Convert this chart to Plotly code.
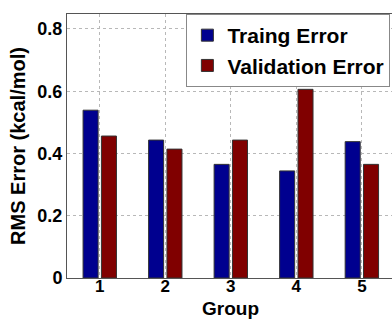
import plotly.graph_objects as go

groups = [1, 2, 3, 4, 5]
training_error = [0.539, 0.443, 0.365, 0.344, 0.438]
validation_error = [0.456, 0.414, 0.443, 0.606, 0.365]
y_ticks = [0, 0.2, 0.4, 0.6, 0.8]
y_tick_labels = ["0", "0.2", "0.4", "0.6", "0.8"]

FONT = "Liberation Sans, Arial, sans-serif"

fig = go.Figure()
fig.add_trace(go.Bar(x=groups, y=training_error, name="Traing Error",
                     marker=dict(color="#00008F", line=dict(color="#333333", width=1))))
fig.add_trace(go.Bar(x=groups, y=validation_error, name="Validation Error",
                     marker=dict(color="#800000", line=dict(color="#333333", width=1))))

fig.update_layout(
    width=392, height=320,
    margin=dict(l=67, r=0, t=14, b=42),
    paper_bgcolor="white", plot_bgcolor="white",
    barmode="group", bargap=0.44, bargroupgap=0.18,
    font=dict(family=FONT, color="black", size=18, weight="bold"),
    legend=dict(x=0.995, xanchor="right", y=1, yanchor="top",
                bgcolor="white", bordercolor="#888888", borderwidth=1,
                font=dict(size=21, weight="bold"), tracegroupgap=0,
                itemwidth=30),
    showlegend=True,
    annotations=[dict(text="Group", xref="x", yref="paper", x=3, y=0,
                      yanchor="bottom", yshift=-42, showarrow=False,
                      borderpad=0,
                      font=dict(size=19, weight="bold"))],
)
fig.update_xaxes(
    range=[0.5, 5.46], tickvals=groups, ticktext=[str(g) for g in groups],
    showgrid=True, gridcolor="#b8b8b8", griddash="dot", gridwidth=1,
    showline=True, linecolor="#555555", linewidth=1, mirror=True,
    ticks="", tickfont=dict(size=17, weight="bold"), ticklabelstandoff=-7,
    zeroline=False, automargin=False,
)
fig.update_yaxes(
    range=[0, 0.848], tickvals=y_ticks, ticktext=y_tick_labels,
    showgrid=True, gridcolor="#b8b8b8", griddash="dot", gridwidth=1,
    showline=True, linecolor="#555555", linewidth=1, mirror=False,
    ticks="", tickfont=dict(size=18, weight="bold"),
    title=dict(text="RMS Error (kcal/mol)", font=dict(size=20, weight="bold"), standoff=6),
    zeroline=False, automargin=False,
)

fig.write_html("out.html")
